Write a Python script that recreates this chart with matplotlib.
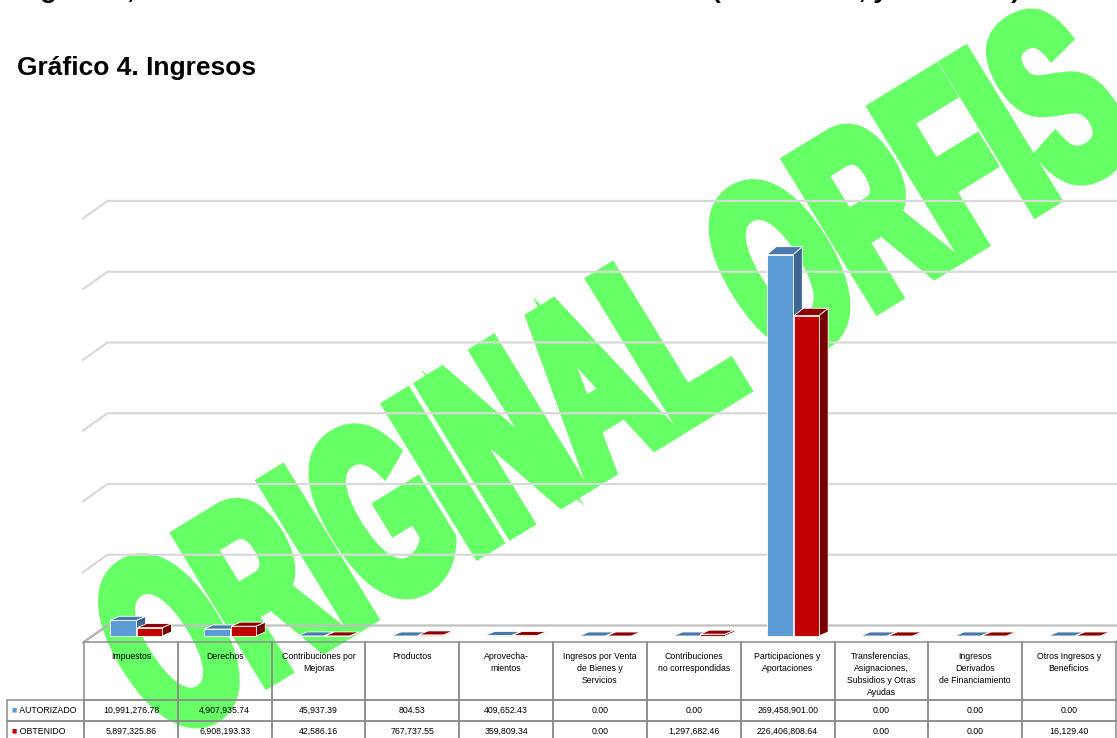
import matplotlib
matplotlib.use('Agg')
import matplotlib.pyplot as plt
from matplotlib.patches import Polygon, PathPatch
from matplotlib.textpath import TextPath
from matplotlib.font_manager import FontProperties
from matplotlib.transforms import Affine2D
from matplotlib.table import Table

plt.rcParams['font.family'] = ['Liberation Sans', 'DejaVu Sans']

# data
categories = ['Impuestos', 'Derechos', 'Contribuciones por\nMejoras', 'Productos',
              'Aprovecha-\nmientos', 'Ingresos por Venta\nde Bienes y\nServicios',
              'Contribuciones\nno correspondidas', 'Participaciones y\nAportaciones',
              'Transferencias,\nAsignaciones,\nSubsidios y Otras\nAyudas',
              'Ingresos\nDerivados\nde Financiamiento', 'Otros Ingresos y\nBeneficios']
autorizado = [10991276.78, 4907935.74, 45937.39, 804.53, 409652.43, 0.00,
              0.00, 269458901.00, 0.00, 0.00, 0.00]
obtenido = [5897325.86, 6908193.33, 42586.16, 767737.55, 359809.34, 0.00,
            1297682.46, 226406808.64, 0.00, 0.00, 16129.40]
series = ['AUTORIZADO', 'OBTENIDO']
grid_values = [0, 50e6, 100e6, 150e6, 200e6, 250e6, 300e6]

W, H = 1117, 738
fig = plt.figure(figsize=(W / 100, H / 100), dpi=100)

# colours: front, top, side
blue = ('#5b9bd5', '#4a78aa', '#3d6590')
red = ('#c00000', '#8e0000', '#760000')

# ---- chart area ----
K = 1.415e-6           # pixels per unit
ax = fig.add_axes([84 / W, 1 - 641.7 / H, 1032 / W, (641.7 - 180) / H])
ax.set_xlim(-0.5, 10.5)
ax.set_ylim(-5.7 / K, 456 / K)
ax.axis('off')

back = 10.5 / K          # back wall offset
wall_dx = 0.25
grid_dv = 17.3 / K
for g in grid_values:
    yb = g + back
    col = '#d9d9d9' if g > 0 else '#c0c0c0'
    ax.plot([-0.51, -0.5 + wall_dx, 11.5], [yb - grid_dv, yb, yb], color=col,
            lw=1.6, clip_on=False, zorder=1, solid_joinstyle='miter')
# floor edges
ax.plot([-0.5, -0.5 + wall_dx], [-5.7 / K, back], color='#b5b5b5', lw=1.6,
        clip_on=False, zorder=1)
ax.plot([10.5, 10.5 + wall_dx], [-5.7 / K, back], color='#b5b5b5', lw=1.6,
        clip_on=False, zorder=1)


def bar3d(x0, w, h, cols):
    dx = 0.10
    hp = h * K
    dy_top = (4 + 4 * hp / 380) / K
    dy_bot = 4 / K
    front = [(x0, 0), (x0 + w, 0), (x0 + w, h), (x0, h)]
    top = [(x0, h), (x0 + w, h), (x0 + w + dx, h + dy_top), (x0 + dx, h + dy_top)]
    side = [(x0 + w, 0), (x0 + w + dx, dy_bot), (x0 + w + dx, h + dy_top), (x0 + w, h)]
    for pts, c in ((side, cols[2]), (top, cols[1]), (front, cols[0])):
        ax.add_patch(Polygon(pts, closed=True, facecolor=c, edgecolor='white',
                             lw=0.6, zorder=3, joinstyle='miter'))


for i in range(len(categories)):
    bar3d(i - 0.222, 0.278, autorizado[i], blue)
    bar3d(i + 0.068, 0.264, obtenido[i], red)

# ---- data table ----
tax = fig.add_axes([7 / W, 1 - 741.7 / H, 1109 / W, 100 / H])
tax.axis('off')
col_w = [77 / 1109] + [93.8 / 1109] * len(categories)
row_h = [58 / 100, 21 / 100, 21 / 100]
tbl = Table(tax, bbox=[0, 0, 1, 1])
rows = [[''] * len(categories),
        ['{:,.2f}'.format(v) for v in autorizado],
        ['{:,.2f}'.format(v) for v in obtenido]]
labels = ['', '  ' + series[0], '  ' + series[1]]
for r in range(3):
    for c in range(len(col_w)):
        if c == 0:
            txt, loc = labels[r], 'left'
        else:
            txt, loc = rows[r][c - 1], 'center'
        cell = tbl.add_cell(r, c, col_w[c], row_h[r], text=txt, loc=loc,
                            facecolor='none', edgecolor='#8c8c8c')
        cell.set_linewidth(1.1)
        if r == 0 and c == 0:
            cell.visible_edges = ''
tbl.auto_set_font_size(False)
tbl.set_fontsize(6.3)
tax.add_table(tbl)

x = col_w[0]
for name in categories:
    tax.text(x + col_w[1] / 2, (741.7 - 652) / 100, name, ha='center', va='top',
             fontsize=6.3, linespacing=1.45)
    x += col_w[1]

for yy, c in zip([(741.7 - 709.5) / 100, (741.7 - 730.5) / 100], [blue[0], red[0]]):
    tax.text(7.5 / 1109, yy, '\u25a0', color=c, fontsize=4, ha='center', va='center',
             family='DejaVu Sans')

# ---- titles ----
fig.text(17 / W, 1 - 75 / H, 'Gráfico 4. Ingresos', fontsize=19, fontweight='bold',
         va='baseline')
# previous line of the page, mostly cut off at the top edge
fig.text(17 / W, 1 + 2 / H, 'Ingresos, se muestran los montos del Estado Analítico '
         '(Autorizado, y Obtenido)', fontsize=19, fontweight='bold', va='baseline')

# ---- watermark ----
fp = FontProperties(family='Liberation Sans', weight='bold')
tp = TextPath((0, 0), 'ORIGINAL ORFIS', size=1, prop=fp)
ext = tp.get_extents()
sx = 1130 / ext.width
sy = 178 / 0.716
tr = (Affine2D().translate(-(ext.x0 + ext.x1) / 2, -0.358).scale(sx, sy)
      .rotate_deg(31.5).translate(608, H - 368).scale(1 / W, 1 / H) + fig.transFigure)
fig.add_artist(PathPatch(tp, facecolor='#66ff66', edgecolor='#66ff66', lw=10,
                         joinstyle='miter', transform=tr, zorder=-5))

fig.savefig('out.png', dpi=100)
